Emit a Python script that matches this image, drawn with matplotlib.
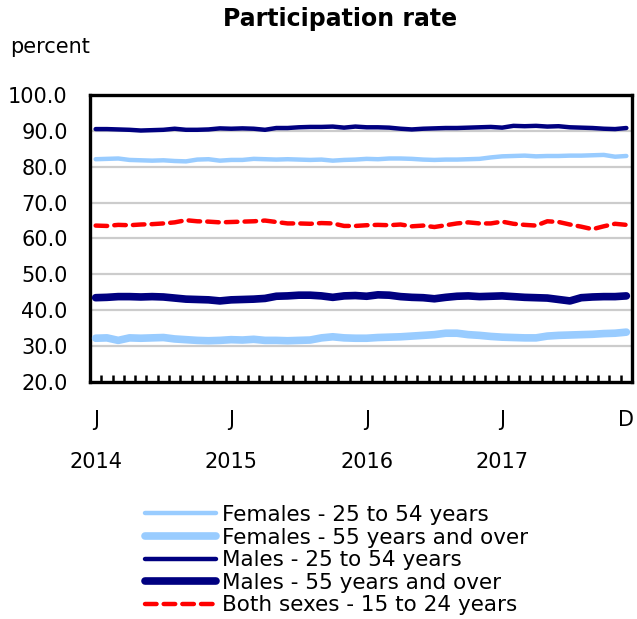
import numpy as np
import matplotlib
matplotlib.use("Agg")
import matplotlib.pyplot as plt
from matplotlib.transforms import blended_transform_factory

# monthly data, Jan 2014 - Dec 2017 (percent)
males_25_54 = [90.5, 90.5, 90.4, 90.3, 90.1, 90.2, 90.3, 90.6, 90.3, 90.3, 90.4, 90.7,
               90.6, 90.7, 90.6, 90.3, 90.8, 90.8, 91.0, 91.1, 91.1, 91.2, 90.9, 91.2,
               91.0, 91.0, 90.9, 90.6, 90.4, 90.6, 90.7, 90.8, 90.8, 90.9, 91.0, 91.1,
               90.9, 91.4, 91.3, 91.4, 91.2, 91.3, 91.0, 90.9, 90.8, 90.6, 90.5, 90.8]
females_25_54 = [82.1, 82.2, 82.3, 81.9, 81.8, 81.7, 81.8, 81.6, 81.5, 82.0, 82.1, 81.7,
                 81.9, 81.9, 82.2, 82.1, 82.0, 82.1, 82.0, 81.9, 82.0, 81.7, 81.9, 82.0,
                 82.2, 82.1, 82.3, 82.3, 82.2, 82.0, 81.9, 82.0, 82.0, 82.1, 82.2, 82.6,
                 82.9, 83.0, 83.1, 82.9, 83.0, 83.0, 83.1, 83.1, 83.2, 83.3, 82.8, 83.0]
youth_15_24 = [63.6, 63.5, 63.8, 63.7, 63.9, 64.0, 64.2, 64.5, 65.1, 64.8, 64.7, 64.5,
               64.6, 64.7, 64.8, 65.0, 64.6, 64.2, 64.2, 64.1, 64.3, 64.2, 63.5, 63.5,
               63.7, 63.8, 63.7, 63.9, 63.4, 63.6, 63.2, 63.7, 64.2, 64.5, 64.2, 64.2,
               64.7, 64.1, 63.8, 63.6, 64.8, 64.6, 63.9, 63.3, 62.6, 63.4, 64.1, 63.8]
males_55_over = [43.5, 43.6, 43.8, 43.8, 43.7, 43.8, 43.7, 43.4, 43.1, 43.0, 42.9, 42.6,
                 42.9, 43.0, 43.1, 43.3, 43.9, 44.0, 44.2, 44.2, 44.0, 43.6, 44.0, 44.1,
                 43.9, 44.3, 44.2, 43.8, 43.6, 43.5, 43.2, 43.6, 43.9, 44.0, 43.8, 43.9,
                 44.0, 43.8, 43.6, 43.5, 43.4, 43.0, 42.6, 43.5, 43.7, 43.8, 43.8, 44.0]
females_55_over = [32.2, 32.3, 31.6, 32.3, 32.2, 32.3, 32.4, 32.0, 31.8, 31.6, 31.5, 31.6,
                   31.8, 31.7, 31.9, 31.6, 31.6, 31.5, 31.6, 31.7, 32.3, 32.6, 32.3, 32.2,
                   32.2, 32.4, 32.5, 32.6, 32.8, 33.0, 33.2, 33.6, 33.6, 33.2, 33.0, 32.7,
                   32.5, 32.4, 32.3, 32.3, 32.8, 33.0, 33.1, 33.2, 33.3, 33.5, 33.6, 33.9]

month_labels = ["J", "J", "J", "J", "D"]
month_label_pos = [0, 12, 24, 36, 47]
years = ["2014", "2015", "2016", "2017"]
year_pos = [0, 12, 24, 36]

light_blue = "#99ccff"
navy = "#000080"

plt.rcParams["font.family"] = "DejaVu Sans"

fig = plt.figure(figsize=(6.37, 6.19), dpi=100)
ax = fig.add_axes([90 / 637, 1 - 382 / 619, 542 / 637, 287 / 619])

x = np.arange(len(males_25_54))
ax.plot(x, females_25_54, color=light_blue, lw=3.2, solid_capstyle="round",
        label="Females - 25 to 54 years", zorder=3)
ax.plot(x, females_55_over, color=light_blue, lw=5.5, solid_capstyle="round",
        label="Females - 55 years and over", zorder=3)
ax.plot(x, males_25_54, color=navy, lw=3.2, solid_capstyle="round",
        label="Males - 25 to 54 years", zorder=3)
ax.plot(x, males_55_over, color=navy, lw=5.5, solid_capstyle="round",
        label="Males - 55 years and over", zorder=3)
ax.plot(x, youth_15_24, color="#ff0000", lw=3.2, ls=(0, (2.6, 1.6)),
        dash_capstyle="round", label="Both sexes - 15 to 24 years", zorder=3)

ax.set_xlim(-0.5, 47.5)
ax.set_ylim(20, 100)
ax.set_yticks(np.arange(20, 101, 10))
ax.set_yticklabels([f"{v:.1f}" for v in range(20, 101, 10)], fontsize=15)
ax.tick_params(axis="y", length=0, pad=16)

ax.set_xticks(month_label_pos)
ax.set_xticklabels(month_labels, fontsize=15)
ax.set_xticks(np.arange(0.5, 47, 1), minor=True)
ax.tick_params(axis="x", which="major", length=0, pad=20)
ax.tick_params(axis="x", which="minor", direction="in", length=5, width=1.8)

trans = blended_transform_factory(ax.transData, ax.transAxes)
for yr, p in zip(years, year_pos):
    ax.text(p, -0.28, yr, transform=trans, ha="center", va="center", fontsize=15)

for v in range(30, 100, 10):
    ax.axhline(v, color="#cccccc", lw=1.6, zorder=1)

for s in ax.spines.values():
    s.set_linewidth(2.4)
    s.set_color("black")

fig.text(0.534, 0.970, "Participation rate", ha="center", va="center",
         fontsize=17, fontweight="bold")
fig.text(10 / 637, 1 - 47 / 619, "percent", ha="left", va="center", fontsize=15)

fig.legend(loc="upper left", bbox_to_anchor=(145 / 637, 1 - 505 / 619),
           frameon=False, fontsize=15.5, handlelength=3.3, handletextpad=0.28,
           labelspacing=0.12, borderaxespad=0, borderpad=0)

fig.savefig("out.png", dpi=100)
